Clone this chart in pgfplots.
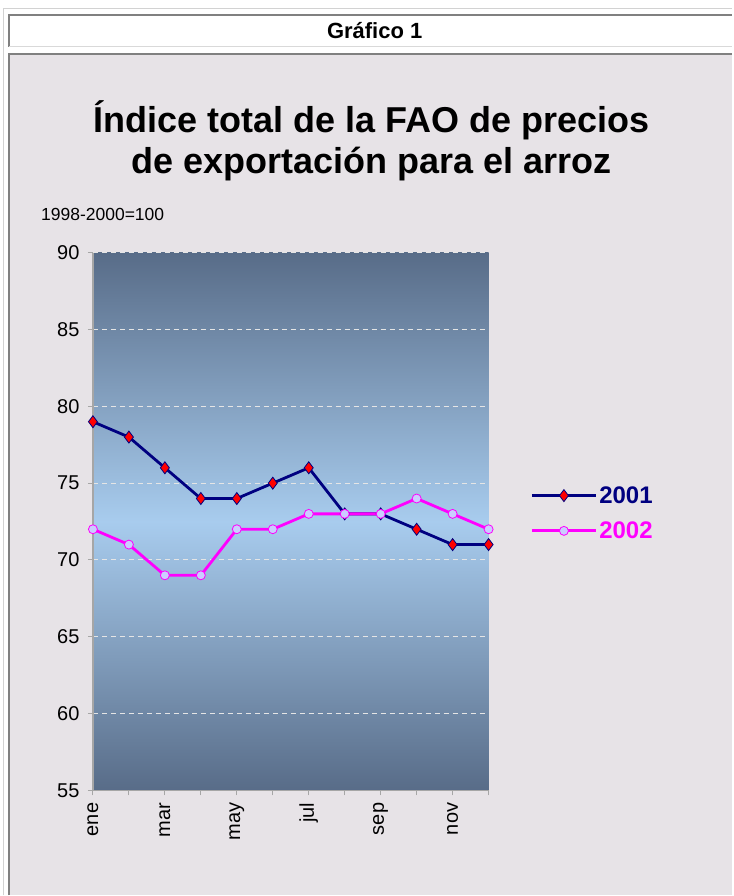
\documentclass[border=0pt]{standalone}
\usepackage{pgfplots}
\pgfplotsset{compat=1.18}
\usepackage{fontspec}
\setmainfont{Liberation Sans}
\definecolor{panel}{RGB}{231,227,231}
\definecolor{topc}{RGB}{88,108,136}
\definecolor{midc}{RGB}{168,204,238}
\definecolor{navyc}{RGB}{0,0,128}
\definecolor{magc}{RGB}{255,0,255}
\definecolor{lavc}{RGB}{204,204,255}
\begin{document}
\begin{tikzpicture}[x=1pt,y=1pt]
\fill[white] (0,0) rectangle (733,896);
\draw[gray!35, line width=1pt] (4,0) -- (4,887) -- (733,887);
\fill[white] (9,849) rectangle (733,881);
\draw[gray, line width=1.5pt] (9,849) -- (9,881) -- (733,881);
\draw[gray!30, line width=1pt] (9,849) -- (733,849);
\node[font=\bfseries\fontsize{22}{22}\selectfont] at (375,865) {Gráfico 1};
\fill[panel] (9,0) rectangle (733,842);
\draw[gray, line width=1.5pt] (9,0) -- (9,842) -- (733,842);
\node[font=\bfseries\fontsize{36}{41}\selectfont, align=center] at (372,755) {Índice total de la FAO de precios\\de exportación para el arroz};
\node[font=\fontsize{17.5}{17.5}\selectfont, anchor=west, inner sep=0pt] at (41,681) {1998-2000=100};
\begin{axis}[
  at={(93pt,105pt)}, anchor=south west, scale only axis,
  width=396pt, height=538pt,
  xmin=0, xmax=11, ymin=55, ymax=90,
  ytick={55,60,...,90},
  xtick={0,...,11},
  xticklabels={ene,,mar,,may,,jul,,sep,,nov,},
  axis x line*=bottom, axis y line*=left,
  axis line style={draw=gray!70, line width=1.2pt},
  tick style={draw=gray!70, line width=1pt},
  tick align=outside, major tick length=5pt,
  ymajorgrids,
  grid style={draw=white!80!gray, line width=1pt, dash pattern=on 5pt off 4pt},
  axis background/.style={shade, top color=topc, bottom color=topc, middle color=midc},
  /pgf/number format/assume math mode=true,
  yticklabel style={font=\fontsize{20}{20}\selectfont, xshift=-5pt},
  xticklabel style={font=\fontsize{20}{20}\selectfont, rotate=90, anchor=east, xshift=-4pt},
  clip=false,
  legend style={at={(1.098,0.573)}, anchor=north west, draw=none, fill=none,
    font=\bfseries\fontsize{24}{24}\selectfont, row sep=13pt,
    nodes={inner sep=2pt}},
  legend cell align=left,
  legend image code/.code={\draw[mark repeat=2,mark phase=2,#1] plot coordinates {(0pt,0pt) (32pt,0pt) (64pt,0pt)};},
]
\addplot[navyc, line width=2.8pt, mark=diamond*, mark size=6pt,
  mark options={fill=red, draw=navyc, line width=0.8pt}]
  coordinates {(0,79) (1,78) (2,76) (3,74) (4,74) (5,75) (6,76) (7,73) (8,73) (9,72) (10,71) (11,71)};
\addlegendentry{\textcolor{navyc}{2001}}
\addplot[magc, line width=2.8pt, mark=*, mark size=4.5pt,
  mark options={fill=lavc, draw=magc, line width=0.8pt}]
  coordinates {(0,72) (1,71) (2,69) (3,69) (4,72) (5,72) (6,73) (7,73) (8,73) (9,74) (10,73) (11,72)};
\addlegendentry{\textcolor{magc}{2002}}
\end{axis}
\end{tikzpicture}
\end{document}
